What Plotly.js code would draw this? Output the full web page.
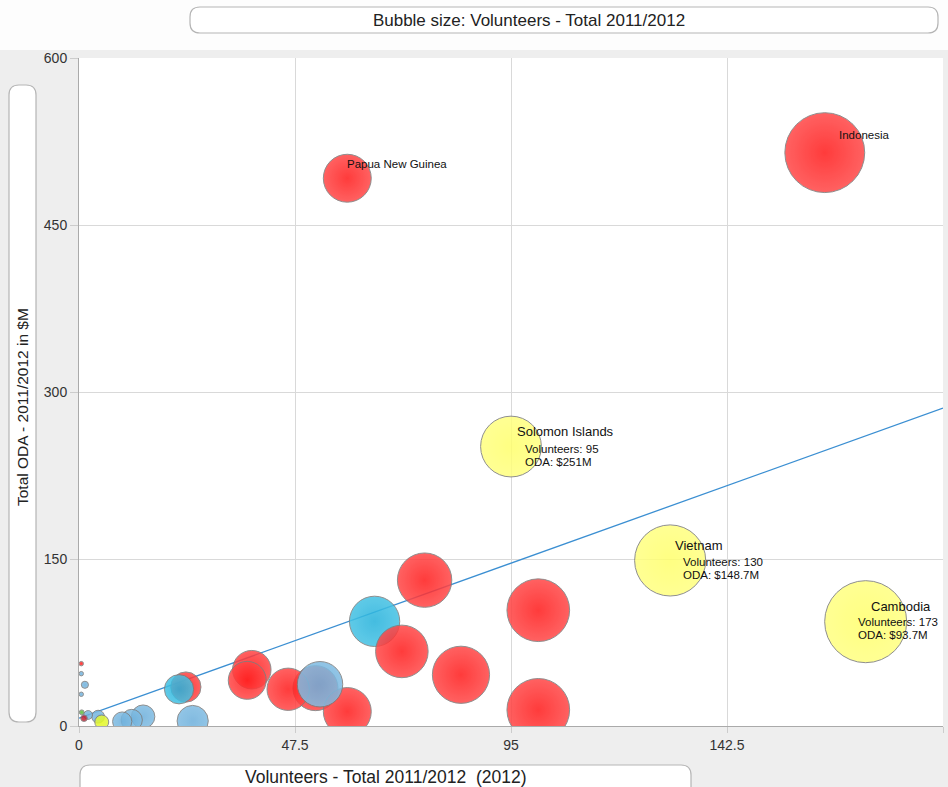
<!DOCTYPE html>
<html><head><meta charset="utf-8">
<script src="https://cdn.plot.ly/plotly-3.0.1.min.js"></script>
<style>html,body{margin:0;padding:0;background:#eeeeee;}#chart{width:948px;height:787px;}</style>
</head><body><div id="chart"></div>
<script>
// ---- data ----
const countries = ["", "Indonesia", "Papua New Guinea", "", "", "", "", "", "", "", "", "", "", "",
  "Solomon Islands", "Vietnam", "Cambodia", "", "", "", "", "", "", "", "", "", "", "", "", "", "", ""];
const volunteers = [65, 164, 59, 76, 101, 101, 84, 71, 52, 46, 38, 37, 23.5, 59,
  95, 130, 173, 22, 53, 25, 14.1, 11.6, 9.5, 4.2, 2, 0.5, 1.3, 0.5, 5, 0.6, 0.5, 1.1];
const odaMillions = [94, 515, 492, 131, 104, 14.5, 46, 67, 34, 33, 50.6, 41, 35, 13,
  251, 148.7, 93.7, 33, 37.5, 4.5, 8.4, 5.4, 4, 8.4, 9.9, 47, 37, 28.5, 3.6, 12.3, 56, 7];
const regionGroup = ["cyan", "red", "red", "red", "red", "red", "red", "red", "red", "red", "red", "red", "red", "red",
  "yellow", "yellow", "yellow", "cyan", "blue", "blue", "blue", "blue", "blue", "blue", "blue", "blue", "blue", "blue",
  "lime", "green", "red", "darkred"];
const labelledCountries = ["Indonesia", "Papua New Guinea", "Solomon Islands", "Vietnam", "Cambodia"];
const detailedCountries = ["Solomon Islands", "Vietnam", "Cambodia"];
const xTickValues = [0, 47.5, 95, 142.5, 190];
const yTickValues = [0, 150, 300, 450, 600];
const trendVolunteers = [0, 190];
const trendOda = [7, 285.5];

// ---- styles ----
const edgeColor = {red:"rgb(255,72,72)", yellow:"rgb(255,255,130)", cyan:"rgb(70,194,228)",
  blue:"rgb(128,188,226)", lime:"rgb(225,245,60)", green:"rgb(110,200,80)", darkred:"rgb(200,40,60)"};
const centerColor = {red:"rgb(255,28,28)", yellow:"rgb(255,255,110)", cyan:"rgb(38,178,220)",
  blue:"rgb(110,176,220)", lime:"rgb(230,250,30)", green:"rgb(90,185,60)", darkred:"rgb(190,30,50)"};
const nameOffset = {"Indonesia":[12,18,11.5], "Papua New Guinea":[-2,14,11.5], "Solomon Islands":[4,15,13],
  "Vietnam":[3,14.5,13], "Cambodia":[3,15,13]};
const detailOffset = {"Solomon Islands":[12,-2], "Vietnam":[11,-1.5], "Cambodia":[-10,0]};

const L=79, R=943, T=58, B=726, W=R-L, H=B-T;
const px = v => (v-L)/W, py = v => (B-v)/H;
function rrect(x0,y0,x1,y1,r){
  const P=(x,y)=>px(x)+','+py(y);
  return 'M'+P(x0+r,y0)+' L'+P(x1-r,y0)+' Q'+P(x1,y0)+' '+P(x1,y0+r)+
    ' L'+P(x1,y1-r)+' Q'+P(x1,y1)+' '+P(x1-r,y1)+' L'+P(x0+r,y1)+
    ' Q'+P(x0,y1)+' '+P(x0,y1-r)+' L'+P(x0,y0+r)+' Q'+P(x0,y0)+' '+P(x0+r,y0)+' Z';
}

const bubbles = {
  type:'scatter', mode:'markers', x:volunteers, y:odaMillions, text:countries,
  hoverinfo:'text',
  marker:{size:volunteers, sizemode:'area', sizeref:0.0514, sizemin:2, opacity:0.86,
    color:regionGroup.map(g=>edgeColor[g]),
    gradient:{type:'radial', color:regionGroup.map(g=>centerColor[g])},
    line:{color:'rgb(125,125,125)', width:1}},
  showlegend:false
};
const trend = {type:'scatter', mode:'lines', x:trendVolunteers, y:trendOda,
  line:{color:'#3b8fd2', width:1.3}, hoverinfo:'skip', showlegend:false};

const FONT = 'Liberation Sans, Arial';
const annotations = [];
countries.forEach((c,i)=>{
  if(!labelledCountries.includes(c)) return;
  const o = nameOffset[c];
  annotations.push({x:volunteers[i], y:odaMillions[i], xref:'x', yref:'y', text:c, showarrow:false,
    xanchor:'left', yanchor:'middle', xshift:o[0], yshift:o[1], font:{family:FONT, size:o[2], color:'#111'}});
  if(detailedCountries.includes(c)){
    const d = detailOffset[c];
    annotations.push({x:volunteers[i], y:odaMillions[i], xref:'x', yref:'y', text:'Volunteers: '+volunteers[i], showarrow:false,
      xanchor:'left', yanchor:'middle', xshift:d[0], yshift:d[1], font:{family:FONT, size:11.5, color:'#111'}});
    annotations.push({x:volunteers[i], y:odaMillions[i], xref:'x', yref:'y', text:'ODA: $'+odaMillions[i]+'M', showarrow:false,
      xanchor:'left', yanchor:'middle', xshift:d[0], yshift:d[1]-13, font:{family:FONT, size:11.5, color:'#111'}});
  }
});
annotations.push({xref:'paper', yref:'paper', x:px(385.5), y:py(777), text:'Volunteers - Total 2011/2012\u00a0 (2012)',
  showarrow:false, xanchor:'center', yanchor:'middle', font:{family:FONT, size:17.5, color:'#222'}});
annotations.push({xref:'paper', yref:'paper', x:px(22), y:py(407), text:'Total ODA - 2011/2012 in $M', textangle:-90,
  showarrow:false, xanchor:'center', yanchor:'middle', font:{family:FONT, size:15.5, color:'#222'}});

const shapes = [
  {type:'rect', xref:'paper', yref:'paper', x0:px(0), x1:px(948), y0:py(50), y1:py(0), fillcolor:'#fdfdfd', line:{width:0}, layer:'below'},
  {type:'path', xref:'paper', yref:'paper', path:rrect(190,7,938,33,10), fillcolor:'#ffffff', line:{color:'#b5b5b5', width:1.2}, layer:'below'},
  {type:'path', xref:'paper', yref:'paper', path:rrect(9,85,36,722,10), fillcolor:'#ffffff', line:{color:'#b5b5b5', width:1.2}, layer:'below'},
  {type:'path', xref:'paper', yref:'paper', path:rrect(80,765,691,800,10), fillcolor:'#ffffff', line:{color:'#b5b5b5', width:1.2}, layer:'below'}
];

const layout = {
  width:948, height:787,
  margin:{l:L, r:948-R, t:T, b:787-B, pad:0},
  paper_bgcolor:'#eeeeee', plot_bgcolor:'#ffffff',
  font:{family:FONT, color:'#333'},
  title:{text:'Bubble size: Volunteers - Total 2011/2012', x:529/948, xref:'container', xanchor:'center',
    y:1-20/787, yref:'container', yanchor:'middle', font:{family:FONT, size:17, color:'#222'}},
  xaxis:{range:[0,190], tickvals:xTickValues, ticktext:xTickValues.map(String), showgrid:true, gridcolor:'#d9d9d9',
    zeroline:false, showline:true, linecolor:'#aaaaaa', ticks:'outside', ticklen:6, tickcolor:'#cccccc',
    tickfont:{size:14, color:'#333'}, fixedrange:true},
  yaxis:{range:[0,600], tickvals:yTickValues, ticktext:yTickValues.map(String), showgrid:true, gridcolor:'#d9d9d9',
    zeroline:false, showline:true, linecolor:'#aaaaaa', ticks:'outside', ticklen:8, tickcolor:'#cccccc',
    tickfont:{size:14, color:'#333'}, fixedrange:true},
  shapes:shapes, annotations:annotations, showlegend:false
};
Plotly.newPlot('chart', [trend, bubbles], layout, {displayModeBar:false, staticPlot:true});
</script></body></html>
